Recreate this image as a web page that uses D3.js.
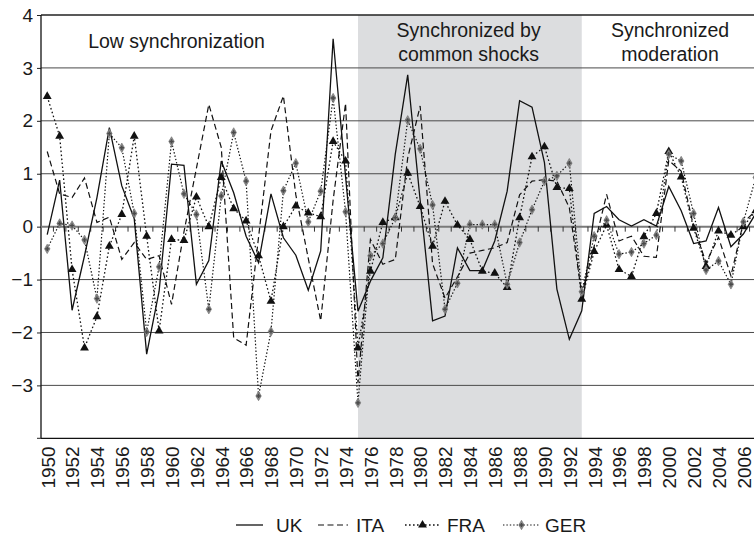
<!DOCTYPE html>
<html>
<head>
<meta charset="utf-8">
<script src="https://cdn.jsdelivr.net/npm/d3@7"></script>
<style>
  html, body { margin: 0; padding: 0; background: #fff; }
  svg { display: block; }
  text { font-family: "Liberation Sans", Arial, Helvetica, sans-serif; fill: #1a1a1a; }
</style>
</head>
<body>
<svg id="chart" width="754" height="537"></svg>
<script>
// Annual output-gap style series, 1950–2007
const years = [1950,1951,1952,1953,1954,1955,1956,1957,1958,1959,1960,1961,1962,1963,1964,1965,1966,1967,1968,1969,
  1970,1971,1972,1973,1974,1975,1976,1977,1978,1979,1980,1981,1982,1983,1984,1985,1986,1987,1988,1989,
  1990,1991,1992,1993,1994,1995,1996,1997,1998,1999,2000,2001,2002,2003,2004,2005,2006,2007];

const uk = [-0.15,0.88,-1.58,-0.55,0.55,1.87,0.77,0.15,-2.41,-1.22,1.18,1.16,-1.09,-0.64,1.24,0.64,-0.18,-0.68,0.62,-0.21,
  -0.54,-1.20,-0.46,3.55,0.95,-1.60,-1.03,-0.59,1.37,2.87,0.50,-1.78,-1.69,-0.40,-0.83,-0.83,-0.27,0.67,2.38,2.26,
  1.21,-1.18,-2.13,-1.59,0.25,0.38,0.13,0.01,0.13,0.01,0.76,0.30,-0.32,-0.27,0.36,-0.38,-0.14,0.25];

const ita = [1.42,0.62,0.55,0.92,0.08,0.18,-0.62,-0.30,-0.62,-0.55,-1.47,-0.10,1.10,2.31,1.50,-2.10,-2.24,-0.20,1.81,2.47,
  0.60,-0.60,-1.78,0.50,2.33,-2.95,-0.24,-0.71,-0.62,1.30,2.28,-0.70,-1.35,-0.95,-0.50,-0.45,-0.40,-0.30,0.60,0.86,
  0.89,0.86,0.36,-1.28,-0.37,0.61,-0.27,-0.18,-0.56,-0.58,1.25,1.05,0.00,-0.68,-0.20,-0.93,0.08,0.30];

const fra = [2.46,1.71,-0.81,-2.29,-1.70,-0.37,0.23,1.71,-0.18,-1.97,-0.24,-0.26,0.56,0.00,0.93,0.34,0.11,-0.55,-1.41,0.00,
  0.39,0.26,0.19,1.61,1.24,-2.29,-0.84,0.08,0.17,1.01,0.38,-0.37,0.48,0.03,-0.24,-0.84,-0.88,-1.15,0.17,1.32,
  1.51,0.74,0.72,-1.37,-0.47,0.03,-0.81,-0.94,-0.19,0.25,1.42,0.94,-0.03,-0.75,-0.08,-0.16,0.00,0.30];

const ger = [-0.42,0.06,0.02,-0.25,-1.36,1.76,1.49,0.25,-1.99,-0.76,1.61,0.62,0.23,-1.56,0.58,1.78,0.86,-3.20,-1.98,0.68,
  1.20,0.09,0.67,2.43,0.28,-3.33,-0.55,-0.32,0.17,2.01,1.47,0.41,-1.56,-1.07,0.04,0.04,0.04,-1.09,-0.30,0.32,
  0.86,0.96,1.20,-1.23,-0.18,0.12,-0.52,-0.48,-0.32,-0.16,1.37,1.24,0.25,-0.82,-0.65,-1.09,0.09,0.93];

const tickYears = [1950,1952,1954,1956,1958,1960,1962,1964,1966,1968,1970,1972,1974,1976,1978,1980,
  1982,1984,1986,1988,1990,1992,1994,1996,1998,2000,2002,2004,2006];
const yTicks = [-3,-2,-1,0,1,2,3,4];

// Shaded period and the three regime captions
const shadeSpan = [1975, 1993];
const captions = [
  { lines: ["Low synchronization"], year: 1960.4 },
  { lines: ["Synchronized by", "common shocks"], year: 1983.9 },
  { lines: ["Synchronized", "moderation"], year: 2000.1 }
];

const series = [
  { name: "UK",  values: uk,  dash: null,      width: 1.3, marker: null },
  { name: "ITA", values: ita, dash: "6,3.5",   width: 1.2, marker: null },
  { name: "FRA", values: fra, dash: "1.6,2.4", width: 1.3, marker: "tri" },
  { name: "GER", values: ger, dash: "1.4,2",   width: 1.2, marker: "ger" }
];

const svg = d3.select("#chart");
const plotL = 41, plotR = 762, plotT = 15, plotB = 438.3;

const x = d3.scaleLinear().domain([1949.5, 2007.5]).range([plotL, plotR]);
const y = d3.scaleLinear().domain([-4, 4]).range([plotB, plotT]);

// shaded band
svg.append("rect")
  .attr("x", x(shadeSpan[0])).attr("y", plotT)
  .attr("width", x(shadeSpan[1]) - x(shadeSpan[0]))
  .attr("height", plotB - plotT)
  .attr("fill", "#dcdddf");

// horizontal gridlines
const grid = svg.append("g");
grid.selectAll("line").data([-3,-2,-1,1,2,3,4]).join("line")
  .attr("x1", plotL).attr("x2", 754)
  .attr("y1", d => y(d)).attr("y2", d => y(d))
  .attr("stroke", d => d === 4 ? "#222" : "#4a4a4a")
  .attr("stroke-width", d => d === 4 ? 1.3 : 1);

// y axis
const yAxis = d3.axisLeft(y).tickValues(yTicks).tickSize(4).tickSizeOuter(0)
  .tickFormat(d => d < 0 ? "\u2212" + Math.abs(d) : String(d));
const yg = svg.append("g").attr("transform", `translate(${plotL},0)`).call(yAxis);
yg.select(".domain").remove();
yg.selectAll(".tick line").attr("stroke", "#222");
yg.selectAll(".tick text").attr("font-size", 19).attr("x", -8).attr("fill", "#1a1a1a")
  .style("font-family", "'Liberation Sans', Arial, sans-serif");
svg.append("line").attr("x1", plotL).attr("x2", plotL).attr("y1", plotT).attr("y2", plotB)
  .attr("stroke", "#111").attr("stroke-width", 1.3);
svg.append("line").attr("x1", plotL - 4).attr("x2", plotL).attr("y1", plotB).attr("y2", plotB)
  .attr("stroke", "#222");

// bottom axis with rotated year labels
const xAxis = d3.axisBottom(x).tickValues(tickYears).tickSize(0).tickFormat(d3.format("d"));
const xg = svg.append("g").attr("transform", `translate(0,${plotB})`).call(xAxis);
xg.select(".domain").remove();
xg.selectAll(".tick text")
  .attr("font-size", 19)
  .attr("transform", "rotate(-90)")
  .attr("text-anchor", "end")
  .attr("x", -8).attr("y", 0).attr("dy", "0.36em")
  .attr("fill", "#1a1a1a")
  .style("font-family", "'Liberation Sans', Arial, sans-serif");
svg.append("line").attr("x1", plotL).attr("x2", 754).attr("y1", plotB).attr("y2", plotB)
  .attr("stroke", "#111").attr("stroke-width", 1.3);

// zero line with category tick marks
svg.append("line").attr("x1", plotL).attr("x2", 754).attr("y1", y(0)).attr("y2", y(0))
  .attr("stroke", "#7a7a7a").attr("stroke-width", 2);
svg.append("g").selectAll("line").data(years).join("line")
  .attr("x1", d => x(d + 0.5)).attr("x2", d => x(d + 0.5))
  .attr("y1", y(0)).attr("y2", y(0) + 5)
  .attr("stroke", "#333").attr("stroke-width", 1);

// captions
captions.forEach(c => {
  const t = svg.append("text").attr("text-anchor", "middle").attr("font-size", 19.5);
  const base = c.lines.length === 1 ? 48 : 37;
  c.lines.forEach((ln, i) => {
    t.append("tspan").attr("x", x(c.year)).attr("y", base + i * 24).text(ln);
  });
});

// series
const plot = svg.append("g");
const line = d3.line().x((d, i) => x(years[i])).y(d => y(d));
series.forEach(s => {
  plot.append("path").datum(s.values)
    .attr("d", line)
    .attr("fill", "none")
    .attr("stroke", "#111")
    .attr("stroke-width", s.width)
    .attr("stroke-dasharray", s.dash)
    .attr("stroke-linejoin", "miter");
});

function drawMarkers(g, s, xs, ys) {
  if (s.marker === "tri") {
    g.append("path").attr("d", d3.symbol(d3.symbolTriangle, 34)())
      .attr("transform", `translate(${xs},${ys})`).attr("fill", "#111");
  } else if (s.marker === "ger") {
    g.append("path").attr("d", d3.symbol(d3.symbolDiamond, 26)())
      .attr("transform", `translate(${xs},${ys})`).attr("fill", "#8c8c8c").attr("stroke", "#6e6e6e").attr("stroke-width", 0.6);
    g.append("path").attr("d", d3.symbol(d3.symbolCross, 10)())
      .attr("transform", `translate(${xs},${ys})`).attr("fill", "#4a4a4a");
  }
}

series.filter(s => s.marker).forEach(s => {
  const g = plot.append("g");
  s.values.forEach((v, i) => drawMarkers(g, s, x(years[i]), y(v)));
});

// legend
const legendY = 525;
const legendItems = [
  { s: series[0], x0: 236, x1: 263, tx: 276 },
  { s: series[1], x0: 318, x1: 348, tx: 356 },
  { s: series[2], x0: 405, x1: 440, tx: 447 },
  { s: series[3], x0: 503, x1: 540, tx: 545 }
];
const lg = svg.append("g");
legendItems.forEach(it => {
  lg.append("line").attr("x1", it.x0).attr("x2", it.x1).attr("y1", legendY).attr("y2", legendY)
    .attr("stroke", "#111").attr("stroke-width", it.s.width).attr("stroke-dasharray", it.s.dash);
  drawMarkers(lg, it.s, (it.x0 + it.x1) / 2, legendY);
  lg.append("text").attr("x", it.tx).attr("y", legendY + 6.5).attr("font-size", 19).text(it.s.name);
});
</script>
</body>
</html>
